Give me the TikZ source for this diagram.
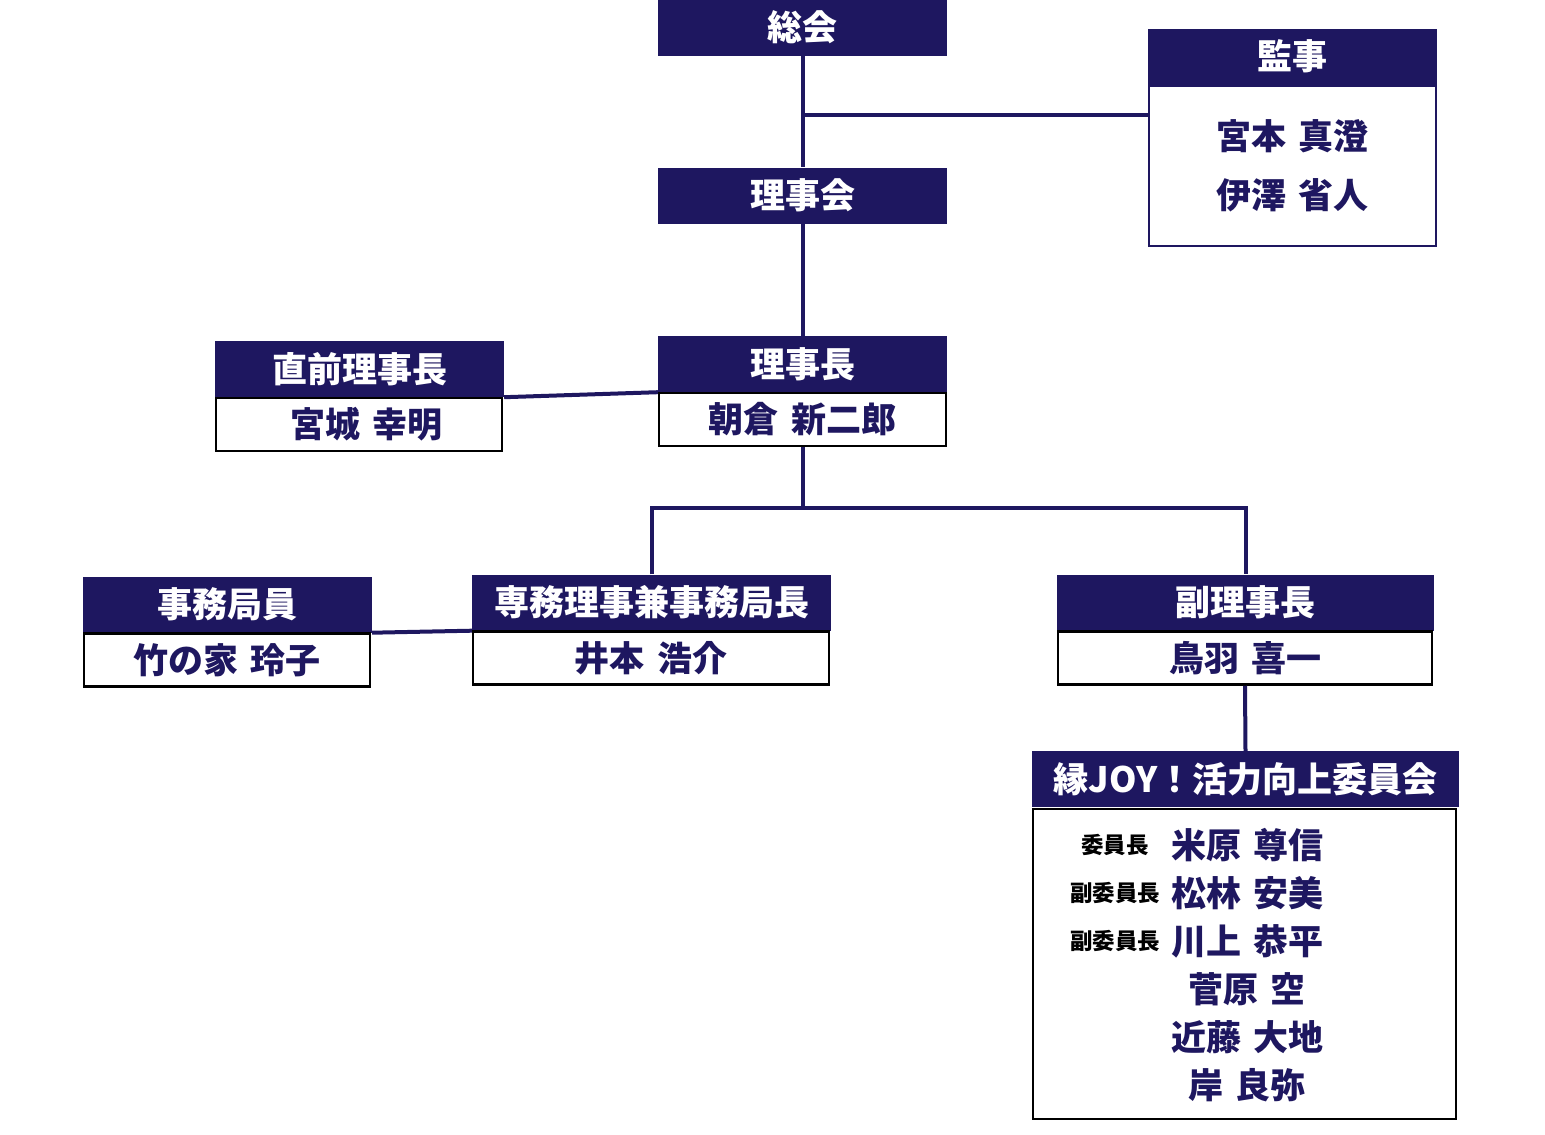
\documentclass[tikz,border=0pt]{standalone}
\usepackage{fontspec}
\setmainfont{Noto Sans CJK JP}[WordSpace=1.5]
\usetikzlibrary{positioning}
\definecolor{navy}{HTML}{1E1760}

\begin{document}
\begin{tikzpicture}[x=1pt,y=-1pt,
        head/.style={fill=navy,text=white,inner sep=0pt,minimum height=56pt,
            font=\bfseries\fontsize{35}{40}\selectfont},
        namebox/.style={draw=black,line width=2.5pt,fill=white,text=navy,inner sep=0pt,
            minimum height=53pt,font=\bfseries\fontsize{35}{40}\selectfont},
        role/.style={text=black,inner sep=0pt,font=\bfseries\fontsize{22.5}{24}\selectfont},
        member/.style={text=navy,inner sep=0pt,font=\bfseries\fontsize{35}{40}\selectfont},
        link/.style={draw=navy,line width=4pt}]
    \useasboundingbox (0,0) rectangle (1545,1135);

    % top
    \node [head,minimum width=289pt] (sokai) at (802.5,27.5) {総会};
    \node [head,minimum width=289pt] (rijikai) at (802.5,195.5) {理事会};
    \node [head,minimum width=289pt] (kanji) at (1292.5,56.5) {監事};
    \node [namebox,draw=navy,minimum width=287pt,minimum height=160pt,align=center,
        font=\bfseries\fontsize{35}{59}\selectfont] (kanjiname) at (1292.5,166)
        {宮本 真澄\\伊澤 省人};

    % chairman
    \node [head,minimum width=289pt] (richo) at (802.5,364) {理事長};
    \node [namebox,minimum width=287pt] (richoname) at (802.5,419.5) {朝倉 新二郎};
    \node [head,minimum width=289pt] (zenricho) at (359.5,369) {直前理事長};
    \node [namebox,minimum width=286pt] (zenrichoname) at (359,424.5) {\hspace{16pt}宮城 幸明};

    % third row
    \node [head,minimum width=289pt] (jimu) at (227.5,604.5) {事務局員};
    \node [namebox,minimum width=286pt] (jimuname) at (227,660) {竹の家 玲子};
    \node [head,minimum width=359pt] (senmu) at (651.5,602.5) {専務理事兼事務局長};
    \node [namebox,minimum width=356pt] (senmuname) at (651,658) {井本 浩介};
    \node [head,minimum width=377pt] (fuku) at (1245.5,602.5) {副理事長};
    \node [namebox,minimum width=374pt] (fukuname) at (1245,658) {鳥羽 喜一};

    % committee
    \node [head,minimum width=427pt] (enjoy) at (1245.5,779) {縁JOY！活力向上委員会};
    \node [namebox,minimum width=423pt,minimum height=310pt] (enjoybody) at (1244.5,964) {};
    \foreach \rolename/\who [count=\i] in {委員長/米原 尊信,副委員長/松林 安美,
            副委員長/川上 恭平,/菅原 空,/近藤 大地,/岸 良弥} {
        \node [role] (role\i) at (1115,797+48*\i) {\rolename};
        \node [member] (member\i) at (1247,797+48*\i) {\who};
    }

    % connectors
    \coordinate (kanjitap) at (802.5,115);
    \coordinate (split) at (802.5,508);
    \draw [link] (sokai.south) -- (rijikai.north);
    \draw [link] (kanjitap) -- (kanjitap -| kanjiname.west);
    \draw [link] (rijikai.south) -- (richo.north);
    \draw [link] (zenricho.south east) -- (richo.south west);
    \draw [link] (richoname.south) -- (split);
    \draw [link] (senmu.north) |- (split) -| (fuku.north);
    \draw [link] (jimu.south east) -- (senmu.south west);
    \draw [link] (fukuname.south) -- (enjoy.north);
\end{tikzpicture}
\end{document}
